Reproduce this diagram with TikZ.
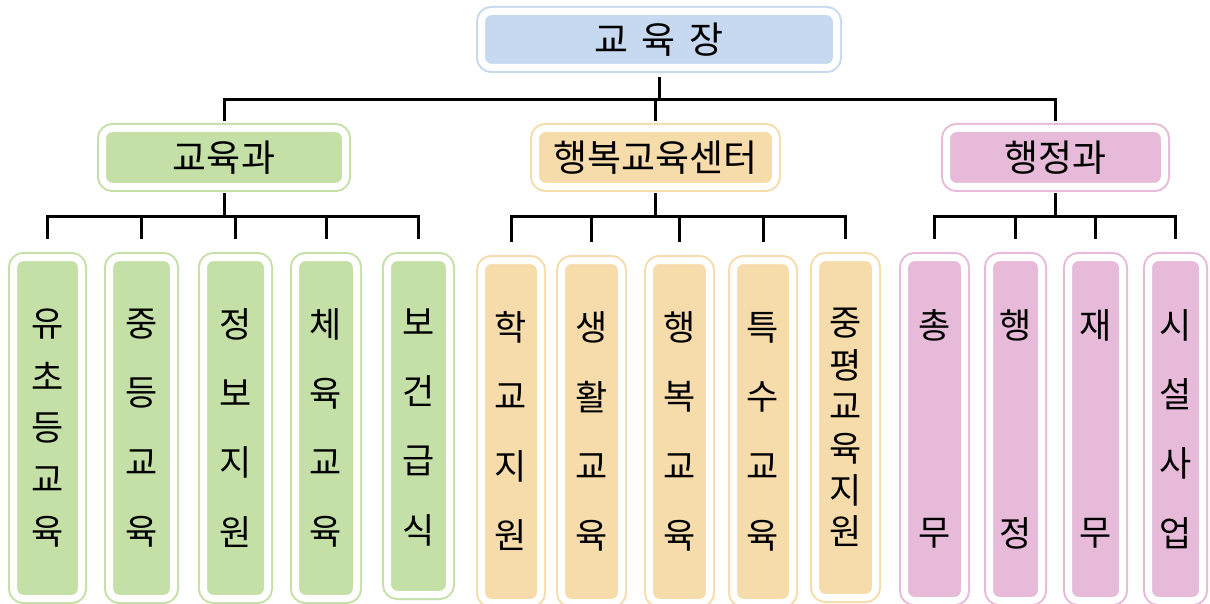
\documentclass[tikz,border=0pt]{standalone}
\usepackage{fontspec}
\newfontfamily\krfont{Noto Sans CJK KR}

\definecolor{chiefblue}{RGB}{198,217,241}
\definecolor{edugreen}{RGB}{196,224,167}
\definecolor{happyorange}{RGB}{246,220,170}
\definecolor{adminpink}{RGB}{230,186,216}

% one hangul syllable in a square cell, and a column of them spread over the box
\newcommand{\onechar}[1]{\hbox to 1.1em{\hss\vbox to 1em{\vss\hbox{#1}\vss}\hss}}
\newcommand{\vlabel}[1]{\vbox to \dimexpr208pt+1em\relax{\offinterlineskip
  \foreach \ch [count=\idx] in {#1}{\ifnum\idx>1 \vfill\fi\onechar{\ch}}}}

\begin{document}
\begin{tikzpicture}[x=1pt,y=-1pt,
  orgbox/.style={draw=#1,fill=#1,double=white,double distance=7pt,line width=2pt,
    rounded corners=10pt,inner sep=0pt,outer sep=7pt},
  headbox/.style={orgbox=#1,minimum height=58pt,font=\krfont\fontsize{37}{37}\selectfont},
  unitbox/.style={orgbox=#1,outer sep=18.5pt,font=\krfont\fontsize{35}{35}\selectfont},
  conn/.style={line width=3pt}]
\useasboundingbox (0,0) rectangle (1210,604);

\node[orgbox=chiefblue,minimum width=355pt,minimum height=56pt,outer sep=10pt,
  font=\krfont\fontsize{37}{37}\selectfont] (chief) at (659,39.5)
  {교\hspace{13pt}육\hspace{13pt}장};

\node[headbox=edugreen,minimum width=243pt] (edu) at (224,157.5) {교육과};
\node[headbox=happyorange,minimum width=240pt] (happy) at (655.5,157.5) {행복교육센터};
\node[headbox=adminpink,minimum width=218pt] (admin) at (1055.5,157.5) {행정과};

\node[unitbox=edugreen,minimum width=68pt,minimum height=341pt] (edu1) at (47.5,428) {\vlabel{유,초,등,교,육}};
\node[unitbox=edugreen,minimum width=64pt,minimum height=341pt] (edu2) at (141.5,428) {\vlabel{중,등,교,육}};
\node[unitbox=edugreen,minimum width=64pt,minimum height=341pt] (edu3) at (235.5,428) {\vlabel{정,보,지,원}};
\node[unitbox=edugreen,minimum width=61pt,minimum height=341pt] (edu4) at (326,428) {\vlabel{체,육,교,육}};
\node[unitbox=edugreen,minimum width=62pt,minimum height=337pt] (edu5) at (418.5,426) {\vlabel{보,건,급,식}};

\node[unitbox=happyorange,minimum width=59pt,minimum height=342pt] (happy1) at (511,431.5) {\vlabel{학,교,지,원}};
\node[unitbox=happyorange,minimum width=60pt,minimum height=342pt] (happy2) at (591.5,431.5) {\vlabel{생,활,교,육}};
\node[unitbox=happyorange,minimum width=60pt,minimum height=342pt] (happy3) at (679.5,431.5) {\vlabel{행,복,교,육}};
\node[unitbox=happyorange,minimum width=59pt,minimum height=342pt] (happy4) at (763,431.5) {\vlabel{특,수,교,육}};
\node[unitbox=happyorange,minimum width=60pt,minimum height=340pt] (happy5) at (845.5,427.5) {\vlabel{중,평,교,육,지,원}};

\node[unitbox=adminpink,minimum width=60pt,minimum height=343pt] (admin1) at (934.5,429) {\vlabel{총,무}};
\node[unitbox=adminpink,minimum width=52pt,minimum height=343pt] (admin2) at (1015.5,429) {\vlabel{행,정}};
\node[unitbox=adminpink,minimum width=54pt,minimum height=343pt] (admin3) at (1095.5,429) {\vlabel{재,무}};
\node[unitbox=adminpink,minimum width=54pt,minimum height=343pt] (admin4) at (1175.5,429) {\vlabel{시,설,사,업}};

\coordinate (bus0) at (0,100);
\coordinate (bus1) at (0,217);

\foreach \n in {edu,happy,admin}
  \draw[conn] (chief.south) -- (chief.south |- bus0) -| (\n.north);

\foreach \n in {1,...,5}
  \draw[conn] (edu.south) -- (edu.south |- bus1) -| (edu\n.north);
\foreach \n in {1,...,5}
  \draw[conn] (happy.south) -- (happy.south |- bus1) -| (happy\n.north);
\foreach \n in {1,...,4}
  \draw[conn] (admin.south) -- (admin.south |- bus1) -| (admin\n.north);

\end{tikzpicture}
\end{document}
